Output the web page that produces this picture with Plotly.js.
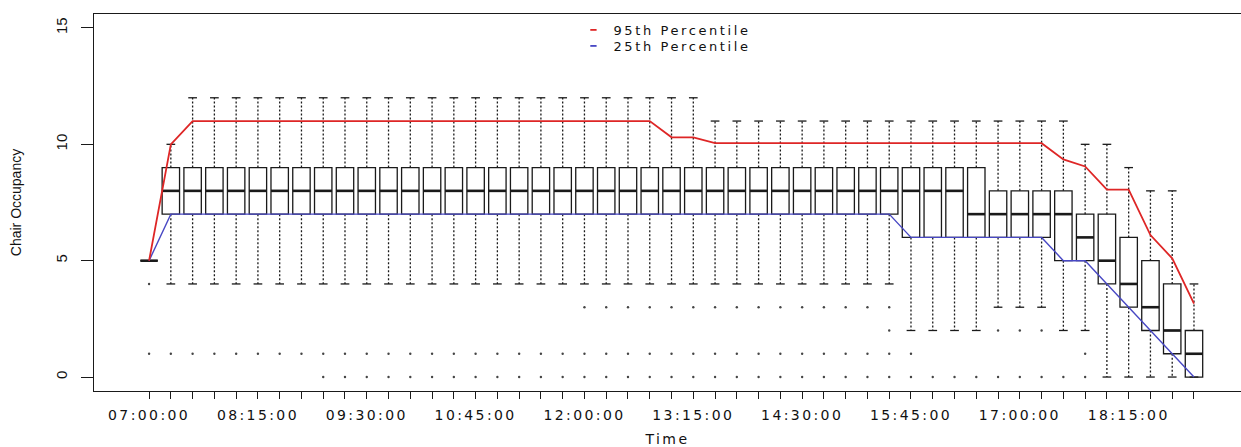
<!DOCTYPE html>
<html>
<head>
<meta charset="utf-8">
<script src="https://cdn.plot.ly/plotly-3.0.1.min.js"></script>
<style>
html,body{margin:0;padding:0;background:#fff;overflow:hidden;}
#chart{width:1241px;height:447px;}
.xtick text, .g-xtitle text { letter-spacing: 2.4px; }
.legendtext { letter-spacing: 2.6px; }
</style>
</head>
<body>
<div id="chart"></div>
<script>
// ---- data ----
const times = ["07:00:00","07:15:00","07:30:00","07:45:00","08:00:00","08:15:00","08:30:00","08:45:00",
  "09:00:00","09:15:00","09:30:00","09:45:00","10:00:00","10:15:00","10:30:00","10:45:00",
  "11:00:00","11:15:00","11:30:00","11:45:00","12:00:00","12:15:00","12:30:00","12:45:00",
  "13:00:00","13:15:00","13:30:00","13:45:00","14:00:00","14:15:00","14:30:00","14:45:00",
  "15:00:00","15:15:00","15:30:00","15:45:00","16:00:00","16:15:00","16:30:00","16:45:00",
  "17:00:00","17:15:00","17:30:00","17:45:00","18:00:00","18:15:00","18:30:00","18:45:00","19:00:00"];
const labelledTicks = ["07:00:00","08:15:00","09:30:00","10:45:00","12:00:00","13:15:00","14:30:00","15:45:00","17:00:00","18:15:00"];

const q1      = [5,7,7,7,7,7,7,7,7,7,7,7,7,7,7,7,7,7,7,7,7,7,7,7,7,7,7,7,7,7,7,7,7,7,7,6,6,6,6,6,6,6,5,5,4,3,2,1,0];
const median  = [5,8,8,8,8,8,8,8,8,8,8,8,8,8,8,8,8,8,8,8,8,8,8,8,8,8,8,8,8,8,8,8,8,8,8,8,8,8,7,7,7,7,7,6,5,4,3,2,1];
const q3      = [5,9,9,9,9,9,9,9,9,9,9,9,9,9,9,9,9,9,9,9,9,9,9,9,9,9,9,9,9,9,9,9,9,9,9,9,9,9,9,8,8,8,8,7,7,6,5,4,2];
const whiskerLow  = [5,4,4,4,4,4,4,4,4,4,4,4,4,4,4,4,4,4,4,4,4,4,4,4,4,4,4,4,4,4,4,4,4,4,4,2,2,2,2,3,3,3,2,2,0,0,0,0,0];
const whiskerHigh = [5,10,12,12,12,12,12,12,12,12,12,12,12,12,12,12,12,12,12,12,12,12,12,12,12,12,11,11,11,11,11,11,11,11,11,11,11,11,11,11,11,11,11,10,10,9,8,8,4];
const outliers = [[4,1],[1],[1],[1],[1],[1],[1],[1],
  [1,0],[1,0],[1,0],[1,0],[1,0],[1,0],[1,0],[1,0],[1,0],[1,0],[1,0],[1,0],
  [3,1,0],[3,1,0],[3,1,0],[3,1,0],[3,1,0],[3,1,0],
  [3,1,0],[3,1,0],[3,1,0],[3,1,0],[3,1,0],[3,1,0],[3,1,0],[3,1,0],
  [3,2,1,0],[1,0],[0],[0],[0],[2,0],[2,0],[2,0],[0],[1,0],[],[],[],[],[]];
const p95 = [5,10,11,11,11,11,11,11,11,11,11,11,11,11,11,11,11,11,11,11,11,11,11,11,10.3,10.3,
  10.05,10.05,10.05,10.05,10.05,10.05,10.05,10.05,10.05,10.05,10.05,10.05,10.05,10.05,10.05,10.05,
  9.35,9.05,8.05,8.05,6.1,5.1,3.15];
const p25 = [5,7,7,7,7,7,7,7,7,7,7,7,7,7,7,7,7,7,7,7,7,7,7,7,7,7,7,7,7,7,7,7,7,7,7,6,6,6,6,6,6,6,5,5,4,3,2,1,0];

// ---- build traces ----
const idx = times.map((_, i) => i);
const BOXW = 0.8, STAPLE = 0.4;

const wx = [], wy = [], sx = [], sy = [], mx = [], my = [], ox = [], oy = [];
idx.forEach(i => {
  if (whiskerHigh[i] > q3[i]) { wx.push(i, i, null); wy.push(q3[i], whiskerHigh[i], null); }
  if (whiskerLow[i] < q1[i])  { wx.push(i, i, null); wy.push(q1[i], whiskerLow[i], null); }
  sx.push(i - STAPLE/2, i + STAPLE/2, null, i - STAPLE/2, i + STAPLE/2, null);
  sy.push(whiskerHigh[i], whiskerHigh[i], null, whiskerLow[i], whiskerLow[i], null);
  mx.push(i - BOXW/2, i + BOXW/2, null);
  my.push(median[i], median[i], null);
  outliers[i].forEach(v => { ox.push(i); oy.push(v); });
});

const ink = '#1a1a1a';
const red = 'rgb(222,38,38)', blue = 'rgb(72,72,196)';
const wide = '"DejaVu Sans", Verdana, sans-serif';
const traces = [
  {type:'box', x: idx, q1: q1, median: median, q3: q3, lowerfence: q1, upperfence: q3,
   width: BOXW, whiskerwidth: 0, boxpoints: false, fillcolor: 'rgba(0,0,0,0)',
   line: {color: ink, width: 1.3}, showlegend: false, hoverinfo: 'skip'},
  {type:'scatter', mode:'lines', x: wx, y: wy, line: {color: ink, width: 1.3, dash: '2px,2px'},
   showlegend: false, hoverinfo: 'skip'},
  {type:'scatter', mode:'lines', x: sx, y: sy, line: {color: ink, width: 1.3},
   showlegend: false, hoverinfo: 'skip'},
  {type:'scatter', mode:'lines', x: mx, y: my, line: {color: ink, width: 2.6},
   showlegend: false, hoverinfo: 'skip'},
  {type:'scatter', mode:'markers', x: ox, y: oy, marker: {color: '#444', size: 2.4},
   showlegend: false, hoverinfo: 'skip'},
  {type:'scatter', mode:'lines', x: idx, y: p25, line: {color: blue, width: 1.4},
   showlegend: false, hoverinfo: 'skip'},
  {type:'scatter', mode:'lines', x: idx, y: p95, line: {color: red, width: 1.8},
   showlegend: false, hoverinfo: 'skip'},
  {type:'scatter', mode:'markers', name: '95th Percentile', x: [null], y: [null], legend: 'legend',
   marker: {symbol: 'line-ew', size: 4.5, line: {color: red, width: 1.8}}},
  {type:'scatter', mode:'markers', name: '25th Percentile', x: [null], y: [null], legend: 'legend2',
   marker: {symbol: 'line-ew', size: 4.5, line: {color: blue, width: 1.8}}}
];

const legendCommon = {xanchor: 'left', yanchor: 'top', bgcolor: 'rgba(0,0,0,0)',
  font: {family: wide, size: 13, color: '#111'}};

const layout = {
  width: 1241, height: 447,
  margin: {l: 94, r: 0, t: 14, b: 56},
  paper_bgcolor: '#fff', plot_bgcolor: '#fff',
  font: {family: '"Liberation Sans", Arial, Helvetica, sans-serif', size: 14, color: '#111'},
  showlegend: true,
  legend: Object.assign({x: 0.418, y: 0.9975}, legendCommon),
  legend2: Object.assign({x: 0.418, y: 0.955}, legendCommon),
  xaxis: {
    range: [-2.53, 50.16], tickmode: 'array', tickvals: idx,
    ticktext: times.map(t => labelledTicks.includes(t) ? t : ''),
    tickfont: {family: wide, size: 14, color: '#111'},
    ticks: 'outside', ticklen: 7, tickwidth: 1, tickcolor: ink,
    showline: true, mirror: true, linecolor: ink, linewidth: 1,
    showgrid: false, zeroline: false, ticklabelstandoff: 4,
    title: {text: 'Time', font: {family: wide, size: 14, color: '#111'}, standoff: 20}
  },
  yaxis: {
    range: [-0.6, 15.6], tickmode: 'array', tickvals: [0, 5, 10, 15], ticktext: ['0','5','10','15'],
    tickfont: {size: 15},
    tickangle: -90, ticks: 'outside', ticklen: 12, tickwidth: 1, tickcolor: ink,
    showline: true, mirror: true, linecolor: ink, linewidth: 1,
    showgrid: false, zeroline: false, ticklabelstandoff: 8,
    title: {text: 'Chair Occupancy', font: {size: 14}, standoff: 28}
  }
};

function spaceLegendText() {
  const info = document.querySelector('#chart .infolayer');
  info.querySelectorAll('text').forEach(el => {
    if (/Percentile/.test(el.textContent)) el.style.letterSpacing = '2.6px';
  });
  // the legend boxes were sized before the spacing: drop their clipping
  info.querySelectorAll('g[class^="legend"], g[class^="legend"] *').forEach(el => {
    if (el.hasAttribute('clip-path')) el.removeAttribute('clip-path');
  });
}

Plotly.newPlot('chart', traces, layout, {staticPlot: true, displayModeBar: false}).then(spaceLegendText);
</script>
</body>
</html>
